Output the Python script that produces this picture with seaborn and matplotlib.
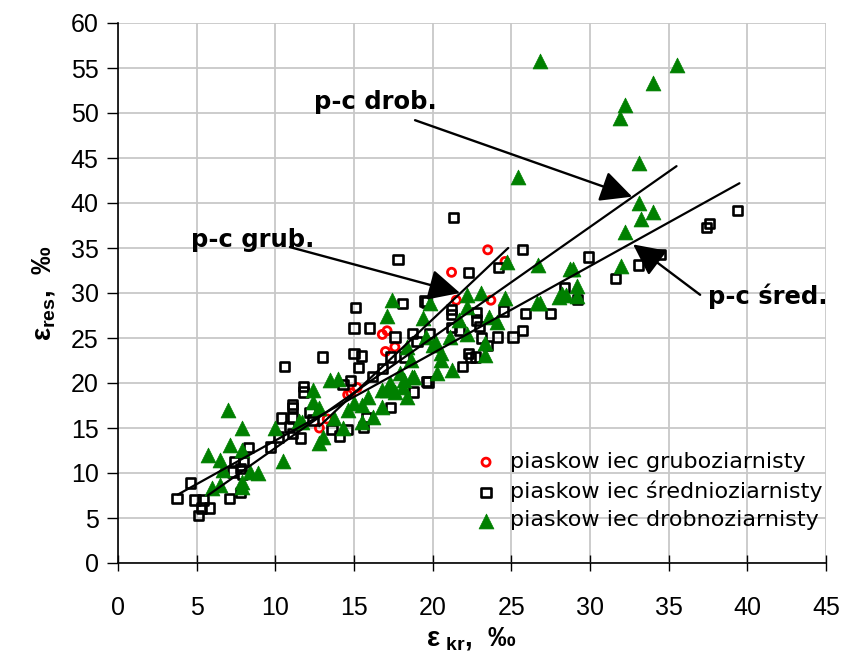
import numpy as np
import pandas as pd
import matplotlib
matplotlib.use("Agg")
import matplotlib.pyplot as plt
import seaborn as sns

# ---- data ----
grub_x = [12.8, 13.3, 14.6, 14.8, 15.2, 16.8, 17.1, 17.0, 17.6, 21.2, 21.5, 23.5, 23.7, 24.6]
grub_y = [15.0, 16.0, 18.7, 18.9, 19.5, 25.4, 25.8, 23.5, 24.0, 32.3, 29.2, 34.8, 29.2, 33.5]

sred_x = [3.75, 4.6, 4.9, 5.4, 5.1, 5.3, 5.8, 7.1, 7.8, 7.8, 7.4, 8.0, 8.3, 7.3, 7.9,
          9.7, 10.2, 11.1, 10.4, 11.1, 10.9, 11.6, 11.1, 10.6, 13.0,
          11.8, 11.8, 14.3, 14.8, 18.8, 19.6, 11.1, 12.2, 12.4, 13.6, 14.6, 14.1, 15.8,
          15.6, 17.3, 15.0, 15.5, 15.3, 15.1, 15.0, 16.0, 17.8, 18.1, 19.6, 17.6, 18.7,
          19.0, 17.3, 16.2, 16.8, 18.2, 19.7,
          21.3, 25.7, 22.3, 24.2, 21.2, 21.2, 22.8, 24.5, 25.9, 27.5, 22.8, 23.0, 25.7,
          25.1, 24.1, 23.1, 21.7, 21.2, 22.7, 22.4, 21.9, 22.3, 23.5,
          29.9, 31.6, 33.1, 34.5, 37.4, 37.6, 39.4, 28.4, 29.2, 19.5, 19.8]
sred_y = [7.2, 8.9, 7.0, 7.0, 5.3, 6.1, 6.1, 7.2, 7.8, 10.5, 11.3, 11.3, 12.8, 10.1, 9.8,
          12.9, 14.0, 17.6, 16.1, 16.1, 15.1, 13.9, 14.4, 21.8, 22.9,
          19.6, 19.0, 19.8, 20.3, 19.0, 20.2, 17.3, 16.7, 15.9, 14.8, 14.8, 14.1, 16.1,
          15.1, 17.3, 23.3, 23.0, 21.7, 28.4, 26.1, 26.1, 33.7, 28.8, 29.0, 25.1, 25.5,
          24.6, 22.9, 20.7, 21.6, 22.9, 20.1,
          38.4, 34.8, 32.3, 32.8, 28.2, 27.6, 27.8, 28.0, 27.7, 27.7, 27.0, 26.3, 25.8,
          25.1, 25.1, 25.0, 25.9, 26.2, 22.9, 22.8, 21.8, 23.3, 24.2,
          34.0, 31.6, 33.1, 34.3, 37.3, 37.7, 39.2, 30.6, 29.3, 29.1, 25.5]

drob_x = [5.7, 6.5, 6.7, 7.0, 7.9, 7.1, 7.9, 8.4, 8.9, 7.9, 7.9, 6.5, 6.0, 10.5, 10.0, 11.5,
          13.5, 12.4, 12.4, 11.7, 12.8, 13.0, 12.8, 14.3, 13.7, 14.6, 15.5, 15.9, 15.5,
          17.1, 16.8, 17.6, 18.4, 18.2, 17.3, 16.2, 18.7, 17.4, 17.1, 19.4, 22.2, 18.4,
          18.6, 17.9, 18.8, 17.3, 16.8, 18.1, 20.2, 20.5, 21.2, 20.3, 14.0, 15.0,
          24.7, 26.7, 22.2, 23.1, 24.6, 26.6, 28.0, 19.8, 21.7, 23.6, 24.1, 19.6, 21.1,
          22.2, 23.3, 20.5, 23.3, 20.0,
          33.1, 34.0, 33.25, 32.2, 32.0, 28.7, 28.9, 29.2, 28.2, 28.5, 29.2, 26.8,
          26.8, 35.5, 34.0, 32.2, 31.9, 33.1, 25.4]
drob_y = [12.0, 11.4, 10.3, 17.0, 15.0, 13.1, 12.6, 10.1, 10.0, 9.0, 8.5, 8.7, 8.3, 11.3, 15.0, 15.8,
          20.3, 19.2, 17.9, 15.7, 17.2, 14.0, 13.3, 15.0, 16.1, 17.0, 17.6, 18.4, 15.7,
          19.2, 17.3, 19.0, 18.4, 20.3, 20.0, 16.2, 20.7, 29.2, 27.4, 27.2, 28.5, 24.0,
          22.6, 21.1, 20.7, 19.8, 19.2, 19.6, 24.4, 22.6, 21.4, 21.1, 20.5, 17.8,
          33.5, 33.1, 29.8, 30.0, 29.4, 28.9, 29.6, 28.9, 27.0, 27.3, 26.8, 25.1, 25.1,
          25.5, 24.4, 23.3, 23.1, 24.2,
          40.0, 39.0, 38.2, 36.8, 33.0, 32.7, 32.7, 30.8, 29.9, 29.8, 29.7, 28.9,
          55.8, 55.3, 53.3, 50.9, 49.4, 44.4, 42.9]

labels = ["piaskow iec gruboziarnisty", "piaskow iec średnioziarnisty",
          "piaskow iec drobnoziarnisty"]

# trend lines: slope, intercept, x range
trend_slope = [1.65, 0.969, 1.228]
trend_icpt = [-5.92, 3.92, 0.5]
trend_xmin = [12.8, 3.8, 5.7]
trend_xmax = [24.8, 39.5, 35.5]

x_ticks = [0, 5, 10, 15, 20, 25, 30, 35, 40, 45]
y_ticks = [0, 5, 10, 15, 20, 25, 30, 35, 40, 45, 50, 55, 60]

# ---- plot ----
sns.set_style("white")
plt.rcParams['font.family'] = ['Liberation Sans', 'DejaVu Sans']
plt.rcParams['mathtext.default'] = 'regular'
plt.rcParams['text.color'] = 'black'
plt.rcParams['axes.labelcolor'] = 'black'
plt.rcParams['xtick.color'] = 'black'
plt.rcParams['ytick.color'] = 'black'

fig = plt.figure(figsize=(8.46, 6.54), dpi=100)
ax = fig.add_axes([118/846, 1-563/654, 708/846, 540/654])

df_g = pd.DataFrame({"x": grub_x, "y": grub_y})
df_s = pd.DataFrame({"x": sred_x, "y": sred_y})
df_d = pd.DataFrame({"x": drob_x, "y": drob_y})

sns.scatterplot(data=df_g, x="x", y="y", ax=ax, marker="o", s=34,
                facecolor="none", edgecolor="#ff0000", linewidth=2.0,
                label=labels[0], zorder=3)
sns.scatterplot(data=df_s, x="x", y="y", ax=ax, marker="s", s=44,
                facecolor="none", edgecolor="black", linewidth=1.9,
                label=labels[1], zorder=4)
sns.scatterplot(data=df_d, x="x", y="y", ax=ax, marker="^", s=115,
                color="#008000", edgecolor="#008000", linewidth=0.5,
                label=labels[2], zorder=5)

for k in range(3):
    xs = np.array([trend_xmin[k], trend_xmax[k]])
    ys = trend_slope[k] * xs + trend_icpt[k]
    sns.lineplot(x=xs, y=ys, ax=ax, color="black", linewidth=1.6,
                 legend=False, zorder=6)

arrow_kw = dict(arrowstyle="-|>,head_length=0.65,head_width=0.32",
                mutation_scale=30, color="black", lw=1.7, shrinkA=0, shrinkB=0)
ax.annotate("", xy=(32.68, 40.7), xytext=(18.88, 49.2), arrowprops=arrow_kw, zorder=7)
ax.annotate("", xy=(21.74, 30.0), xytext=(10.93, 35.1), arrowprops=arrow_kw, zorder=7)
ax.annotate("", xy=(32.74, 35.4), xytext=(37.0, 29.8), arrowprops=arrow_kw, zorder=7)
ann_font = dict(fontsize=17.5, fontweight="bold", family="DejaVu Sans",
                ha="center", va="center", color="black")
ax.text(16.34, 51.2, "p-c drob.", **ann_font)
ax.text(8.58, 35.9, "p-c grub.", **ann_font)
ax.text(41.3, 29.6, "p-c śred.", **ann_font)

ax.set_xlim(0, 45)
ax.set_ylim(0, 60)
ax.set_xticks(x_ticks)
ax.set_yticks(y_ticks)
ax.grid(True, color="#c8c8c8", linewidth=1.3)
ax.set_axisbelow(True)
for sp in ["top", "right"]:
    ax.spines[sp].set_visible(False)
for sp in ["left", "bottom"]:
    ax.spines[sp].set_color("black")
    ax.spines[sp].set_linewidth(1.2)
ax.tick_params(axis="y", direction="out", length=8, width=1, labelsize=18, pad=6, left=True)
ax.tick_params(axis="x", direction="inout", length=12, width=1, labelsize=18, pad=18, bottom=True)

ax.set_xlabel(r"$\varepsilon_{\ kr}$,  ‰", fontsize=20, fontweight="bold", labelpad=3)
ax.set_ylabel(r"$\varepsilon_{res}$,  ‰", fontsize=20, fontweight="bold", labelpad=10)

leg = ax.legend(loc="upper left", bbox_to_anchor=(0.49, 0.222), frameon=False,
                prop={"family": "DejaVu Sans", "size": 16},
                handletextpad=0.55, labelspacing=0.38, handlelength=1.1,
                borderaxespad=0)
for t in leg.get_texts():
    t.set_color("black")

fig.savefig("out.png", dpi=100)
